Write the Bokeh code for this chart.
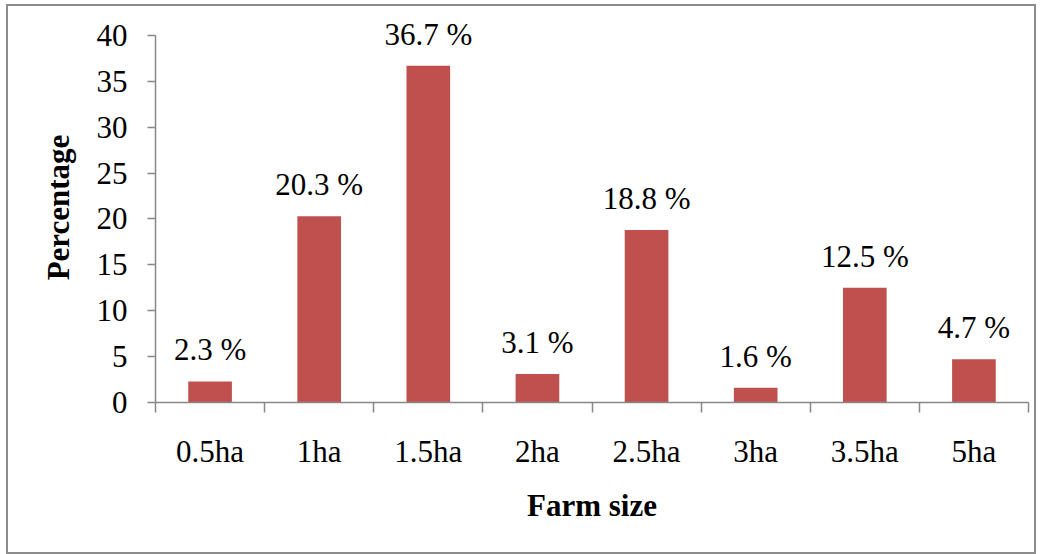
from bokeh.plotting import figure
from bokeh.models import ColumnDataSource, FixedTicker, Range1d, LabelSet
from bokeh.embed import file_html
from bokeh.resources import INLINE

categories = ["0.5ha", "1ha", "1.5ha", "2ha", "2.5ha", "3ha", "3.5ha", "5ha"]
values = [2.3, 20.3, 36.7, 3.1, 18.8, 1.6, 12.5, 4.7]
labels = ["2.3 %", "20.3 %", "36.7 %", "3.1 %", "18.8 %", "1.6 %", "12.5 %", "4.7 %"]
y_ticks = [0, 5, 10, 15, 20, 25, 30, 35, 40]

FONT = "Liberation Serif"
FS = "31px"
AXIS_COLOR = "#888888"

xs = [i + 0.5 for i in range(len(categories))]
src = ColumnDataSource(dict(x=xs, top=values, label=labels))

p = figure(width=1030, height=550, output_backend="svg", toolbar_location=None,
           x_range=Range1d(0, len(categories)), y_range=Range1d(0, 42.5),
           min_border_left=147, min_border_right=10, min_border_top=6,
           min_border_bottom=154)
p.styles = {"border": "2px solid #8c8c8c", "margin-left": "6px", "margin-top": "4px"}
p.outline_line_color = None
p.xgrid.visible = False
p.ygrid.visible = False

p.vbar(x="x", top="top", width=0.4, source=src, fill_color="#C0504D",
       line_color=None)

ls = LabelSet(x="x", y="top", text="label", source=src, text_align="center",
              text_baseline="bottom", y_offset=14, text_font=FONT,
              text_font_size=FS, text_color="#000000")
p.add_layout(ls)

# x axis
p.xaxis.ticker = FixedTicker(ticks=xs, minor_ticks=list(range(len(categories) + 1)))
p.xaxis.major_label_overrides = {x: c for x, c in zip(xs, categories)}
p.xaxis.major_tick_out = 0
p.xaxis.major_tick_in = 0
p.xaxis.minor_tick_out = 10
p.xaxis.minor_tick_in = 0
p.xaxis.minor_tick_line_color = AXIS_COLOR
p.xaxis.major_label_standoff = 21
p.xaxis.axis_label = "Farm size"
p.xaxis.axis_label_standoff = 16

# y axis
p.yaxis.ticker = FixedTicker(ticks=y_ticks, minor_ticks=[])
p.yaxis.bounds = (0, 40)
p.yaxis.major_tick_out = 8
p.yaxis.major_tick_in = 0
p.yaxis.major_label_standoff = 20
p.yaxis.axis_label = "Percentage"
p.yaxis.axis_label_standoff = 18

for ax in (p.xaxis[0], p.yaxis[0]):
    ax.axis_line_color = AXIS_COLOR
    ax.axis_line_width = 1.5
    ax.major_tick_line_color = AXIS_COLOR
    ax.major_tick_line_width = 1.5
    ax.minor_tick_line_width = 1.5
    ax.major_label_text_font = FONT
    ax.major_label_text_font_size = FS
    ax.major_label_text_color = "#000000"
    ax.axis_label_text_font = FONT
    ax.axis_label_text_font_size = FS
    ax.axis_label_text_font_style = "bold"
    ax.axis_label_text_color = "#000000"

open("out.html", "w").write(file_html(p, INLINE))
